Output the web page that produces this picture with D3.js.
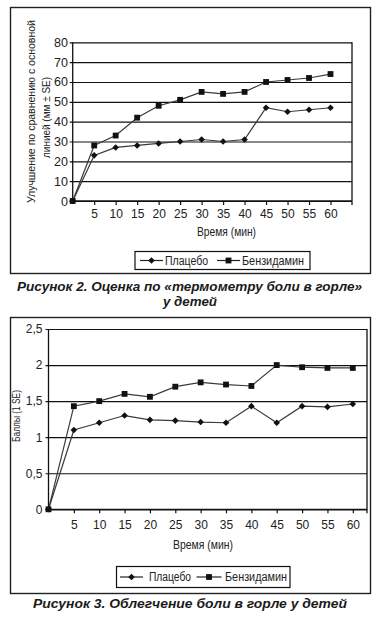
<!DOCTYPE html>
<html>
<head>
<meta charset="utf-8">
<script src="https://cdn.jsdelivr.net/npm/d3@7"></script>
<style>
  html, body { margin: 0; padding: 0; background: #fff; }
  svg { display: block; }
  .lbl { font-family: "Liberation Sans", Arial, sans-serif; fill: #222; }
  .cap { font-family: "Liberation Sans", Arial, sans-serif; font-weight: bold; font-style: italic; fill: #1a1a1a; }
</style>
</head>
<body>
<svg id="chart" width="377" height="617"></svg>
<script>
// ---------- DATA ----------
const minutes = [0, 5, 10, 15, 20, 25, 30, 35, 40, 45, 50, 55, 60];
const xTickValues = [5, 10, 15, 20, 25, 30, 35, 40, 45, 50, 55, 60];
const seriesNames = ["Плацебо", "Бензидамин"];

// Figure 2: sore throat thermometer
const placebo2 = [0, 23, 27, 28, 29, 30, 31, 30, 31, 47, 45, 46, 47];
const benzydamine2 = [0, 28, 33, 42, 48, 51, 55, 54, 55, 60, 61, 62, 64];
const yTicks2 = [0, 10, 20, 30, 40, 50, 60, 70, 80];
const yTickLabels2 = ["0", "10", "20", "30", "40", "50", "60", "70", "80"];
const yTitle2 = ["Улучшение по сравнению с основной", "линией (мм ± SE)"];
const caption2 = ["Рисунок 2. Оценка по «термометру боли в горле»", "у детей"];

// Figure 3: sore throat relief
const placebo3 = [0, 1.1, 1.2, 1.3, 1.24, 1.23, 1.21, 1.2, 1.43, 1.2, 1.43, 1.42, 1.46];
const benzydamine3 = [0, 1.43, 1.5, 1.6, 1.56, 1.7, 1.76, 1.73, 1.71, 2.0, 1.97, 1.96, 1.96];
const yTicks3 = [0, 0.5, 1, 1.5, 2, 2.5];
const yTickLabels3 = ["0", "0,5", "1", "1,5", "2", "2,5"];
const yTitle3 = ["Баллы (1 SE)"];
const caption3 = ["Рисунок 3. Облегчение боли в горле у детей"];

const xTitle = "Время (мин)";

// ---------- DRAW ----------
const svg = d3.select("#chart");

function diamondPath(s) {
  return `M0,${-s}L${s},0L0,${s}L${-s},0Z`;
}

function fitText(sel, len) {
  if (len) sel.attr("textLength", len).attr("lengthAdjust", "spacingAndGlyphs");
  return sel;
}

function drawPanel(cfg) {
  const g = svg.append("g");
  g.append("rect")
    .attr("x", cfg.frame[0]).attr("y", cfg.frame[1])
    .attr("width", cfg.frame[2] - cfg.frame[0]).attr("height", cfg.frame[3] - cfg.frame[1])
    .attr("fill", "none").attr("stroke", "#222").attr("stroke-width", 1.4);

  const x = d3.scaleLinear().domain([0, cfg.xMax]).range([cfg.plot.left, cfg.plot.right]);
  const y = d3.scaleLinear().domain([0, cfg.yMax]).range([cfg.plot.bottom, cfg.plot.top]);

  const yAxis = d3.axisLeft(y)
    .tickValues(cfg.yTicks)
    .tickFormat((d, i) => cfg.yTickLabels[i])
    .tickSizeInner(-(cfg.plot.right - cfg.plot.left))
    .tickSizeOuter(0)
    .tickPadding(6);
  const ya = g.append("g").attr("transform", `translate(${cfg.plot.left},0)`).call(yAxis);
  ya.select(".domain").remove();
  ya.selectAll(".tick line")
    .attr("x1", -3)
    .attr("stroke", "#111").attr("stroke-width", 1.2);
  ya.selectAll(".tick text")
    .attr("class", "lbl").attr("font-size", cfg.yFont).attr("fill", "#222")
    .attr("x", cfg.yLabelX - cfg.plot.left).attr("text-anchor", "end");

  g.append("line")
    .attr("x1", cfg.plot.left).attr("x2", cfg.plot.left)
    .attr("y1", cfg.plot.top).attr("y2", cfg.plot.bottom)
    .attr("stroke", "#111").attr("stroke-width", 1.3);
  g.append("line")
    .attr("x1", cfg.plot.right).attr("x2", cfg.plot.right)
    .attr("y1", cfg.plot.top).attr("y2", cfg.plot.bottom + 4)
    .attr("stroke", "#111").attr("stroke-width", 1.3);

  const xAxis = d3.axisBottom(x)
    .tickValues(xTickValues)
    .tickSizeInner(4).tickSizeOuter(0).tickPadding(5)
    .tickFormat(d3.format("d"));
  const xa = g.append("g").attr("transform", `translate(0,${cfg.plot.bottom})`).call(xAxis);
  xa.select(".domain").remove();
  xa.selectAll(".tick line").attr("stroke", "#111").attr("stroke-width", 1.2);
  xa.selectAll(".tick text")
    .attr("class", "lbl").attr("font-size", cfg.xFont).attr("fill", "#222")
    .attr("y", cfg.xLabelY - cfg.plot.bottom).attr("dy", "0.35em");
  g.append("line")
    .attr("x1", cfg.plot.left - 3).attr("x2", cfg.plot.right)
    .attr("y1", cfg.plot.bottom).attr("y2", cfg.plot.bottom)
    .attr("stroke", "#111").attr("stroke-width", 1.3);

  const line = d3.line().x((d, i) => x(minutes[i])).y(d => y(d));
  const series = [cfg.placebo, cfg.benzy];
  series.forEach((vals) => {
    g.append("path").datum(vals)
      .attr("d", line).attr("fill", "none")
      .attr("stroke", "#3a3a3a").attr("stroke-width", 1.2);
  });
  series.forEach((vals, si) => {
    g.selectAll(null).data(vals).enter().append("path")
      .attr("transform", (d, i) => `translate(${x(minutes[i])},${y(d)})`)
      .attr("d", si === 0 ? diamondPath(3.3) : d3.symbol(d3.symbolSquare, 34)())
      .attr("fill", "#111");
  });

  // y title lines (rotated)
  cfg.yTitle.forEach((t, i) => {
    const p = cfg.yTitlePos[i];
    fitText(g.append("text").attr("class", "lbl")
      .attr("font-size", cfg.yTitleFont)
      .attr("text-anchor", "middle")
      .attr("transform", `translate(${p[0]},${p[1]}) rotate(-90)`)
      .attr("dy", "0.35em")
      .text(t), p[2]);
  });

  fitText(g.append("text").attr("class", "lbl")
    .attr("font-size", cfg.xTitleFont)
    .attr("text-anchor", "middle")
    .attr("x", cfg.xTitlePos[0]).attr("y", cfg.xTitlePos[1]).attr("dy", "0.35em")
    .text(xTitle), cfg.xTitlePos[2]);

  const L = cfg.legend;
  g.append("rect")
    .attr("x", L.box[0]).attr("y", L.box[1])
    .attr("width", L.box[2] - L.box[0]).attr("height", L.box[3] - L.box[1])
    .attr("fill", "#fff").attr("stroke", "#111").attr("stroke-width", 1.2);
  const ly = (L.box[1] + L.box[3]) / 2;
  L.items.forEach((it, i) => {
    g.append("line")
      .attr("x1", it.x1).attr("x2", it.x2).attr("y1", ly).attr("y2", ly)
      .attr("stroke", "#222").attr("stroke-width", 1.2);
    g.append("path")
      .attr("transform", `translate(${(it.x1 + it.x2) / 2},${ly})`)
      .attr("d", i === 0 ? diamondPath(3.3) : d3.symbol(d3.symbolSquare, 34)())
      .attr("fill", "#111");
    fitText(g.append("text").attr("class", "lbl")
      .attr("font-size", L.font)
      .attr("x", it.tx).attr("y", ly).attr("dy", "0.35em")
      .text(seriesNames[i]), it.len);
  });

  cfg.caption.forEach((t, i) => {
    fitText(svg.append("text").attr("class", "cap")
      .attr("font-size", cfg.capFont)
      .attr("text-anchor", "middle")
      .attr("x", cfg.capX[i]).attr("y", cfg.capY[i]).attr("dy", "0.35em")
      .text(t), cfg.capLen[i]);
  });
}

drawPanel({
  frame: [10.5, 7.5, 370.5, 273.5],
  plot: { left: 72.7, right: 352, top: 42.3, bottom: 201 },
  xMax: 65, yMax: 80,
  yTicks: yTicks2, yTickLabels: yTickLabels2,
  placebo: placebo2, benzy: benzydamine2,
  yFont: 12.5, yLabelX: 68,
  xFont: 12, xLabelY: 213.5,
  yTitle: yTitle2, yTitleFont: 11.5, yTitlePos: [[31, 111.5, 183], [46, 117.5, 81]],
  xTitleFont: 12, xTitlePos: [226.5, 232, 59],
  legend: {
    box: [135, 251.5, 310, 269.5], font: 12,
    items: [{ x1: 140, x2: 163, tx: 165, len: 43 }, { x1: 217, x2: 240, tx: 242, len: 62 }]
  },
  caption: caption2, capFont: 13.5, capX: [189.5, 190], capY: [286.5, 301], capLen: [345, 54]
});

drawPanel({
  frame: [10.5, 317.5, 370.5, 593.5],
  plot: { left: 48.5, right: 367, top: 329, bottom: 509.3 },
  xMax: 62.8, yMax: 2.5,
  yTicks: yTicks3, yTickLabels: yTickLabels3,
  placebo: placebo3, benzy: benzydamine3,
  yFont: 12, yLabelX: 42.5,
  xFont: 12, xLabelY: 525,
  yTitle: yTitle3, yTitleFont: 11.5, yTitlePos: [[16, 416, 52]],
  xTitleFont: 12, xTitlePos: [203, 545, 60],
  legend: {
    box: [116.5, 566.5, 290, 587.5], font: 12,
    items: [{ x1: 120, x2: 143, tx: 149, len: 42 }, { x1: 196.5, x2: 221.5, tx: 225, len: 62 }]
  },
  caption: caption3, capFont: 13.5, capX: [190], capY: [603.5], capLen: [314]
});
</script>
</body>
</html>
